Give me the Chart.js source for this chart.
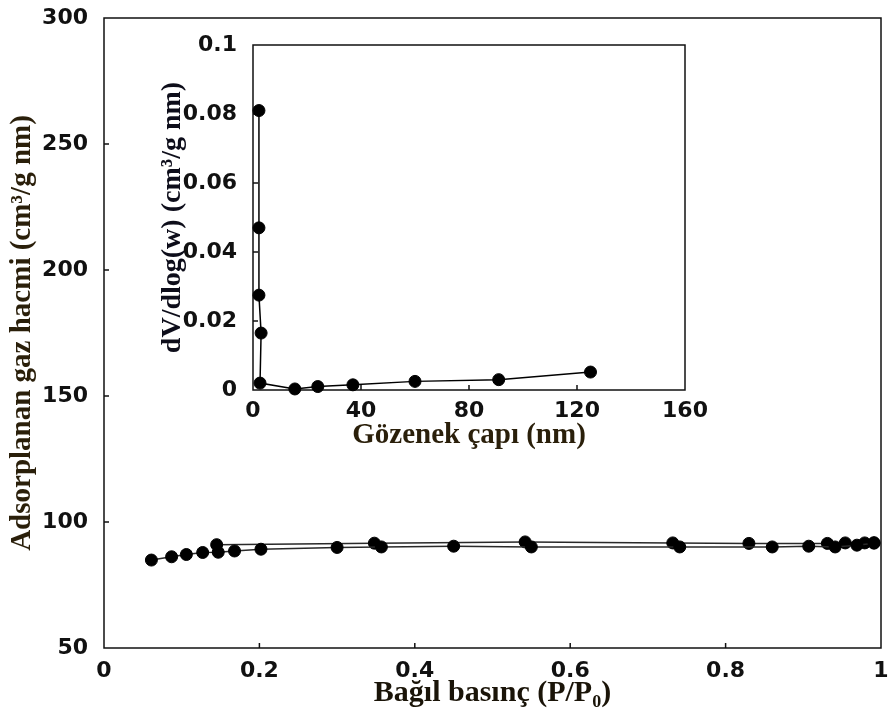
<!DOCTYPE html>
<html>
<head>
<meta charset="utf-8">
<script src="https://cdn.jsdelivr.net/npm/chart.js@4.4.0/dist/chart.umd.min.js"></script>
<style>
  html, body { margin: 0; padding: 0; background: #fff; }
  #wrap { position: relative; width: 888px; height: 713px; }
  #main { position: absolute; left: 0; top: 0; }
  #inset { position: absolute; left: 150px; top: 30px; }
</style>
</head>
<body>
<div id="wrap">
  <canvas id="main" width="888" height="713"></canvas>
  <canvas id="inset" width="570" height="430"></canvas>
</div>
<script>
// isotherm, adsorption branch (P/P0 vs volume)
const adsP = [0.061, 0.087, 0.106, 0.127, 0.147, 0.168, 0.202, 0.300, 0.357, 0.450, 0.550, 0.741, 0.860, 0.907, 0.941, 0.969, 0.991]
const adsV = [84.9, 86.2, 87.1, 87.9, 88.0, 88.5, 89.2, 89.9, 90.1, 90.4, 90.1, 90.1, 90.1, 90.4, 90.1, 90.8, 91.6]
// desorption branch
const desP = [0.991, 0.979, 0.954, 0.931, 0.830, 0.732, 0.542, 0.348, 0.145]
const desV = [91.8, 91.7, 91.7, 91.5, 91.5, 91.7, 92.1, 91.6, 91.0]

// inset: pore size distribution
const poreW = [2.2, 2.2, 2.2, 3.0, 2.6, 15.5, 24, 37, 60, 91, 125]
const poreDv = [0.081, 0.047, 0.0275, 0.0165, 0.002, 0.0003, 0.001, 0.0015, 0.0025, 0.003, 0.0052]

const mainXTicks = [0, 0.2, 0.4, 0.6, 0.8, 1]
const mainYTicks = [50, 100, 150, 200, 250, 300]
const insetXTicks = [0, 40, 80, 120, 160]
const insetYTicks = [0, 0.02, 0.04, 0.06, 0.08, 0.1]

const tickFont = { family: 'DejaVu Sans', weight: 'bold', size: 22 }
const ink = '#111'

const pts = (xs, ys) => xs.map((x, i) => ({ x: x, y: ys[i] }))

// box round the plot + short ticks pointing inwards
const frame = {
    id: 'frame',
    beforeDatasetsDraw(chart) {
        const { ctx, chartArea: a, scales } = chart
        ctx.save()
        ctx.strokeStyle = ink
        ctx.lineWidth = 1.5
        ctx.strokeRect(a.left, a.top, a.right - a.left, a.bottom - a.top)
        const len = 5
        scales.x.ticks.forEach(t => {
            const px = scales.x.getPixelForValue(t.value)
            if (px <= a.left + 1 || px >= a.right - 1) return
            ctx.beginPath()
            ctx.moveTo(px, a.bottom)
            ctx.lineTo(px, a.bottom - len)
            ctx.stroke()
        })
        scales.y.ticks.forEach(t => {
            const py = scales.y.getPixelForValue(t.value)
            if (py <= a.top + 1 || py >= a.bottom - 1) return
            ctx.beginPath()
            ctx.moveTo(a.left, py)
            ctx.lineTo(a.left + len, py)
            ctx.stroke()
        })
        ctx.restore()
    }
}

const lineStyle = {
    borderColor: '#2a2a2a',
    borderWidth: 1.5,
    pointRadius: 6,
    pointBackgroundColor: '#000',
    pointBorderColor: '#000',
    pointBorderWidth: 1,
    tension: 0,
    clip: false
}

const fixX = (h) => s => { s.height = h; s.paddingLeft = 0; s.paddingRight = 0 }
const fixY = (w) => s => { s.width = w; s.paddingTop = 0; s.paddingBottom = 0 }

new Chart(document.getElementById('main'), {
    type: 'line',
    data: {
        datasets: [
            Object.assign({ label: 'adsorpsiyon', data: pts(adsP, adsV) }, lineStyle),
            Object.assign({ label: 'desorpsiyon', data: pts(desP, desV) }, lineStyle)
        ]
    },
    options: {
        responsive: false,
        animation: false,
        devicePixelRatio: 1,
        layout: { padding: { top: 18, right: 3, left: 0, bottom: 0 } },
        plugins: { legend: { display: false }, tooltip: { enabled: false } },
        scales: {
            x: {
                type: 'linear', min: 0, max: 1,
                afterBuildTicks: s => { s.ticks = mainXTicks.map(v => ({ value: v })) },
                afterFit: fixX(65),
                grid: { display: false },
                border: { display: false },
                ticks: { font: tickFont, color: ink, padding: 2, maxRotation: 0, callback: v => String(v) },
                title: {
                    display: true, text: 'Bağıl basınç (P/P₀)', color: '#1a1408',
                    font: { family: 'Liberation Serif', weight: 'bold', size: 30, lineHeight: 1.2 },
                    padding: { top: 0, bottom: 2 }
                }
            },
            y: {
                type: 'linear', min: 50, max: 300,
                afterBuildTicks: s => { s.ticks = mainYTicks.map(v => ({ value: v })) },
                afterFit: fixY(104),
                grid: { display: false },
                border: { display: false },
                ticks: { font: tickFont, color: ink, padding: 8, callback: v => String(v) },
                title: {
                    display: true, text: 'Adsorplanan gaz hacmi (cm³/g nm)', color: '#2a1f0a',
                    font: { family: 'Liberation Serif', weight: 'bold', size: 29, lineHeight: 1.2 },
                    padding: { top: 5, bottom: 0 }
                }
            }
        }
    },
    plugins: [frame]
})

new Chart(document.getElementById('inset'), {
    type: 'line',
    data: {
        datasets: [
            Object.assign({ label: 'dV/dlog(w)', data: pts(poreW, poreDv) }, lineStyle, { borderColor: '#000' })
        ]
    },
    options: {
        responsive: false,
        animation: false,
        devicePixelRatio: 1,
        layout: { padding: { top: 15, right: 35, left: 0, bottom: 0 } },
        plugins: { legend: { display: false }, tooltip: { enabled: false } },
        scales: {
            x: {
                type: 'linear', min: 0, max: 160,
                afterBuildTicks: s => { s.ticks = insetXTicks.map(v => ({ value: v })) },
                afterFit: fixX(70),
                grid: { display: false },
                border: { display: false },
                ticks: { font: tickFont, color: ink, padding: 0, maxRotation: 0, callback: v => String(v) },
                title: {
                    display: true, text: 'Gözenek çapı (nm)', color: '#2a1f0a',
                    font: { family: 'Liberation Serif', weight: 'bold', size: 29, lineHeight: 1.2 },
                    padding: { top: 0, bottom: 7 }
                }
            },
            y: {
                type: 'linear', min: 0, max: 0.1,
                afterBuildTicks: s => { s.ticks = insetYTicks.map(v => ({ value: v })) },
                afterFit: fixY(103),
                grid: { display: false },
                border: { display: false },
                ticks: { font: tickFont, color: ink, padding: 8, callback: v => String(v) },
                title: {
                    display: true, text: 'dV/dlog(w) (cm³/g nm)', color: '#0d0d1a',
                    font: { family: 'Liberation Serif', weight: 'bold', size: 28, lineHeight: 1.2 },
                    padding: { top: 6, bottom: 0 }
                }
            }
        }
    },
    plugins: [frame]
})
</script>
</body>
</html>
